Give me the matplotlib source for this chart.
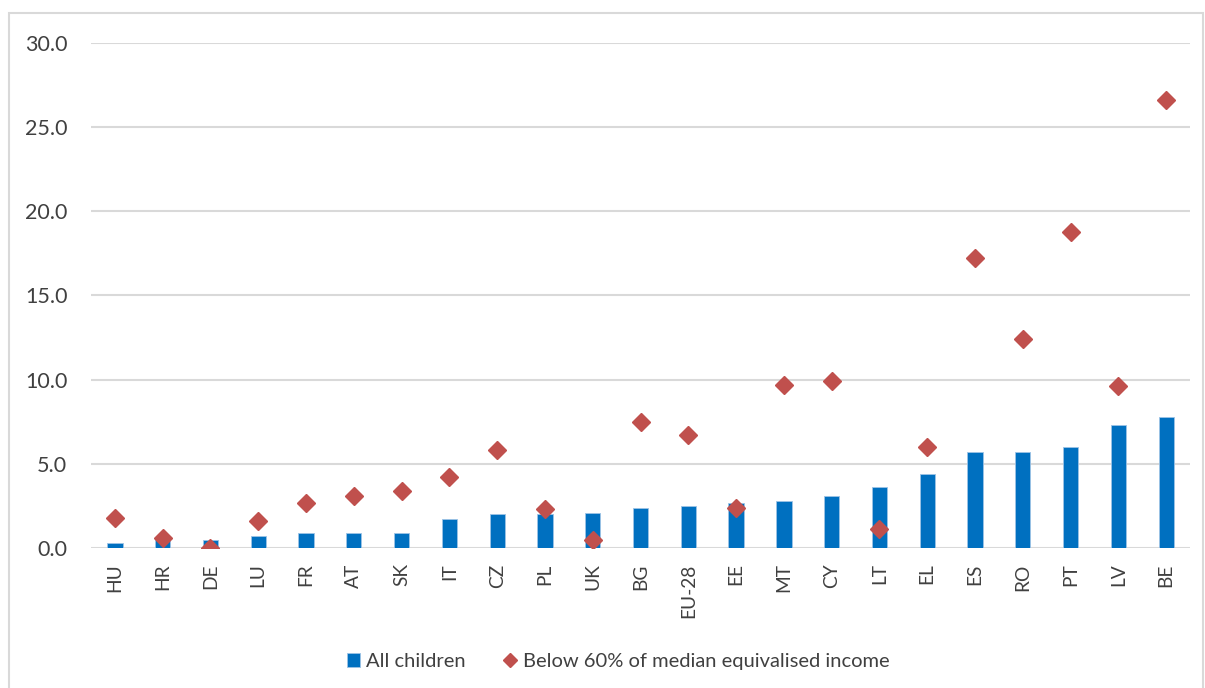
import numpy as np
import matplotlib.pyplot as plt
from matplotlib.patches import Rectangle

countries = ['HU', 'HR', 'DE', 'LU', 'FR', 'AT', 'SK', 'IT', 'CZ', 'PL', 'UK', 'BG',
             'EU-28', 'EE', 'MT', 'CY', 'LT', 'EL', 'ES', 'RO', 'PT', 'LV', 'BE']
all_children = [0.3, 0.6, 0.5, 0.7, 0.9, 0.9, 0.9, 1.7, 2.0, 2.0, 2.1, 2.4,
                2.5, 2.7, 2.8, 3.1, 3.6, 4.4, 5.7, 5.7, 6.0, 7.3, 7.8]
below_60 = [1.8, 0.6, 0.0, 1.6, 2.7, 3.1, 3.4, 4.2, 5.8, 2.3, 0.5, 7.5,
            6.7, 2.4, 9.7, 9.9, 1.1, 6.0, 17.2, 12.4, 18.8, 9.6, 26.6]

plt.rcParams['font.family'] = ['Lato', 'DejaVu Sans']

fig = plt.figure(figsize=(12.05, 6.88), dpi=100)
ax = fig.add_axes([0.0755, 0.2035, 0.9121, 0.734])

x = np.arange(len(countries))
bars = ax.bar(x, all_children, width=0.32, color='#0070C0', edgecolor='#9DC3E6',
              linewidth=0.6, label='All children', zorder=2)
pts, = ax.plot(x, below_60, linestyle='none', marker='D', markersize=9.6,
               color='#C0504D', label='Below 60% of median equivalised income', zorder=3)

ax.set_xlim(-0.5, len(countries) - 0.5)
ax.set_ylim(0, 30)
ax.set_yticks(np.arange(0, 31, 5))
ax.set_yticklabels([f'{v:.1f}' for v in np.arange(0, 31, 5)], fontsize=15.5, color='#404040')
ax.set_xticks(x)
ax.set_xticklabels(countries, rotation=90, fontsize=13.8, color='#404040')
ax.tick_params(length=0, pad=11)
ax.tick_params(axis='y', pad=17)
ax.grid(axis='y', color='#D9D9D9', linewidth=1.5, zorder=0)
ax.set_axisbelow(True)
for s in ax.spines.values():
    s.set_visible(False)

leg = fig.legend([bars, pts], [bars.get_label(), pts.get_label()],
                 loc='center', bbox_to_anchor=(0.513, 0.039), ncol=2, frameon=False,
                 fontsize=14.5, handlelength=0.65, handletextpad=0.3, columnspacing=1.9,
                 labelcolor='#404040')
leg.legend_handles[1].set_markersize(7.5)

fig.patches.append(Rectangle((9 / 1205, -0.05), (1203 - 9) / 1205, 1.05 - 13 / 688,
                             transform=fig.transFigure, fill=False,
                             edgecolor='#D9D9D9', linewidth=1.5))

fig.savefig('out.png', dpi=100)
